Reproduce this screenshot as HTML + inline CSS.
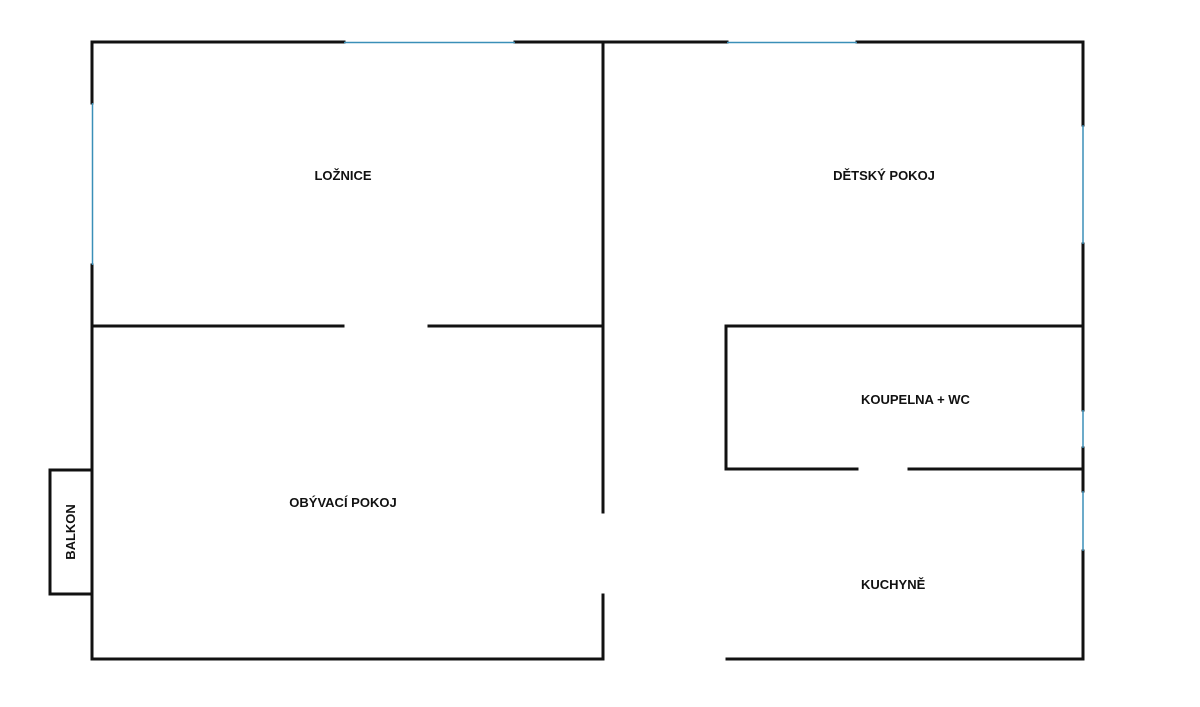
<!DOCTYPE html>
<html><head><meta charset="utf-8"><style>
html,body{margin:0;padding:0;background:#fff;}
svg{display:block;}
text{font-family:"Liberation Sans",sans-serif;font-weight:bold;font-size:13px;fill:#111;}
</style></head><body>
<svg width="1200" height="707" viewBox="0 0 1200 707" xmlns="http://www.w3.org/2000/svg">
<g stroke="#111" stroke-width="3" fill="none" stroke-linecap="square">
<!-- top -->
<line x1="92" y1="42" x2="344" y2="42"/>
<line x1="515" y1="42" x2="727" y2="42"/>
<line x1="857" y1="42" x2="1083" y2="42"/>
<!-- left -->
<line x1="92" y1="42" x2="92" y2="103"/>
<line x1="92" y1="265" x2="92" y2="659"/>
<!-- balkon -->
<polyline points="92,470 50,470 50,594 92,594"/>
<!-- middle wall -->
<line x1="603" y1="42" x2="603" y2="512"/>
<line x1="603" y1="595" x2="603" y2="659"/>
<!-- bottom -->
<line x1="92" y1="659" x2="603" y2="659"/>
<line x1="727" y1="659" x2="1083" y2="659"/>
<!-- y=326 -->
<line x1="92" y1="326" x2="343" y2="326"/>
<line x1="429" y1="326" x2="603" y2="326"/>
<line x1="726" y1="326" x2="1083" y2="326"/>
<!-- bath -->
<line x1="726" y1="326" x2="726" y2="469"/>
<line x1="726" y1="469" x2="857" y2="469"/>
<line x1="909" y1="469" x2="1083" y2="469"/>
<!-- right -->
<line x1="1083" y1="42" x2="1083" y2="125"/>
<line x1="1083" y1="244" x2="1083" y2="410"/>
<line x1="1083" y1="448" x2="1083" y2="491"/>
<line x1="1083" y1="551" x2="1083" y2="659"/>
</g>
<g stroke="#3a8fb8" stroke-width="1.5">
<line x1="344" y1="42.5" x2="515" y2="42.5"/>
<line x1="727" y1="42.5" x2="857" y2="42.5"/>
<line x1="92.5" y1="103" x2="92.5" y2="265"/>
<line x1="1083" y1="125" x2="1083" y2="244"/>
<line x1="1083" y1="410" x2="1083" y2="448"/>
<line x1="1083" y1="491" x2="1083" y2="551"/>
</g>
<text x="343" y="180" text-anchor="middle">LOŽNICE</text>
<text x="884" y="180" text-anchor="middle">DĚTSKÝ POKOJ</text>
<text x="861" y="404">KOUPELNA + WC</text>
<text x="343" y="507" text-anchor="middle">OBÝVACÍ POKOJ</text>
<text x="861" y="589">KUCHYNĚ</text>
<text x="0" y="0" text-anchor="middle" transform="translate(75,532) rotate(-90)">BALKON</text>
</svg>
</body></html>
